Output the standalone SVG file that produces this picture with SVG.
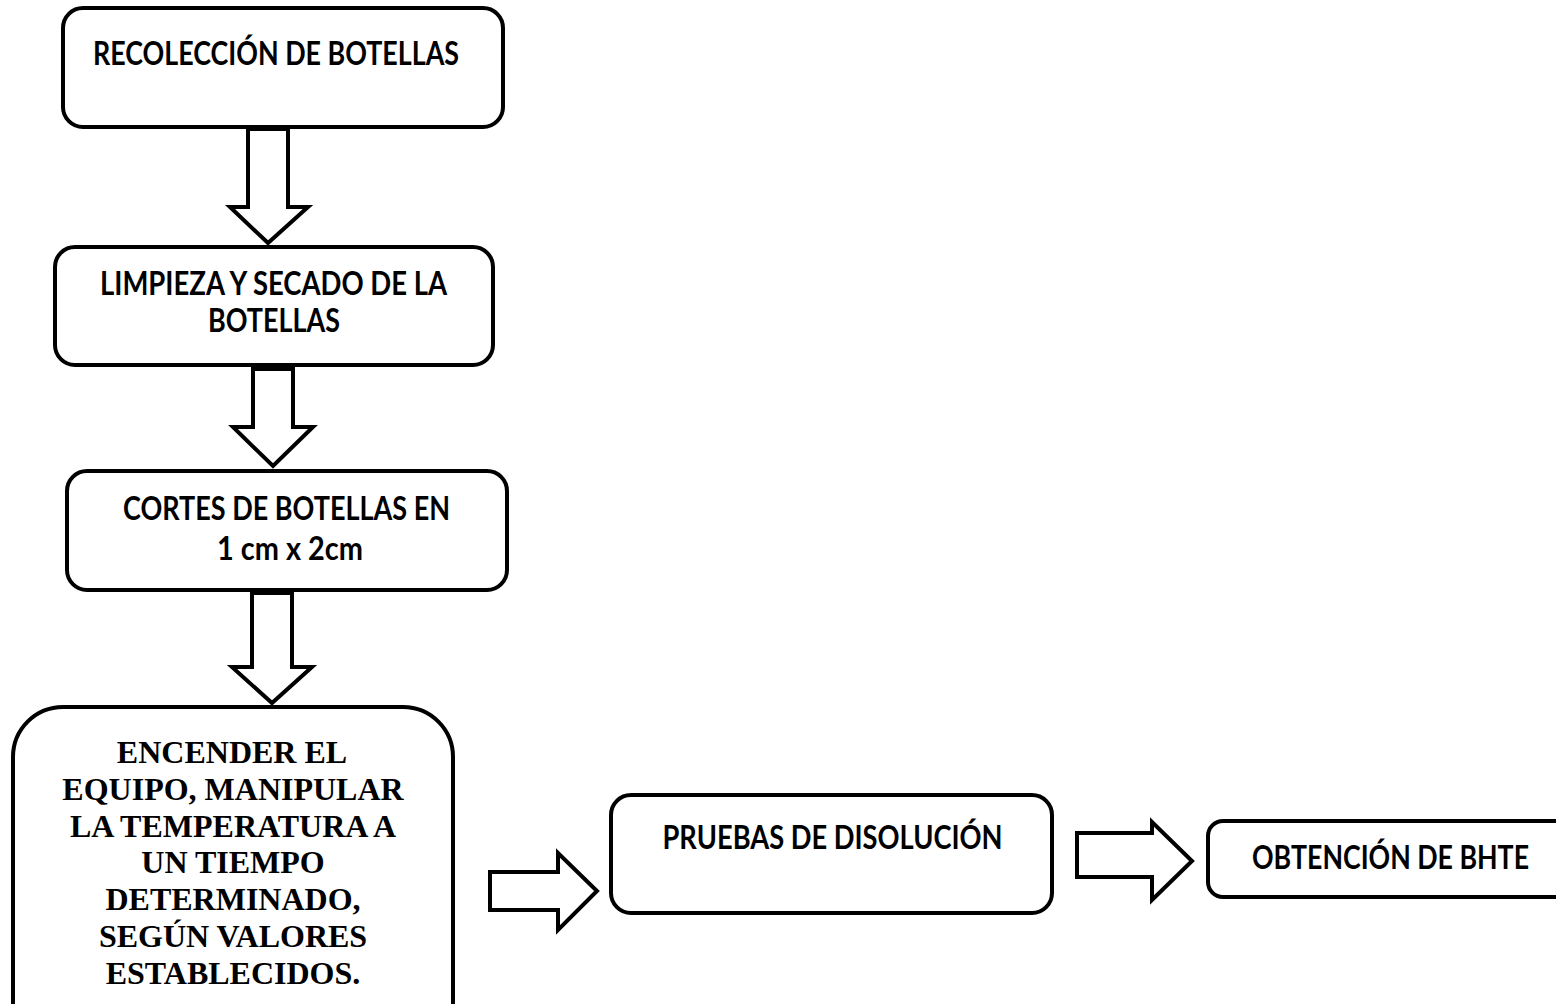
<svg xmlns="http://www.w3.org/2000/svg" width="1556" height="1004" viewBox="0 0 1556 1004">
<style>
.box{fill:#fff;stroke:#000;stroke-width:4}
.arr{fill:#fff;stroke:#000;stroke-width:4;stroke-linejoin:miter}
.t{font-family:"Lato","Liberation Sans",sans-serif;font-weight:bold;font-size:32px;fill:#000;text-anchor:middle}
.s{font-family:"Liberation Serif","Times New Roman",serif;font-weight:bold;font-size:32px;fill:#000;text-anchor:middle}
</style>
<rect width="1556" height="1004" fill="#fff"/>
<g id="connectors">
<polygon class="arr" points="248,129 288,129 288,207 308,207 268,243 230,207 248,207"/>
<polygon class="arr" points="253,369 293,369 293,427 313,427 273,466 233,427 253,427"/>
<polygon class="arr" points="252,593 292,593 292,667 312,667 272,703 232,667 252,667"/>
<polygon class="arr" points="490,872 558,872 558,853 597,891 558,930 558,910 490,910"/>
<polygon class="arr" points="1077,833 1152,833 1152,822 1192,861 1152,900 1152,877 1077,877"/>
</g>
<g id="n1">
<rect class="box" x="63" y="8" width="440" height="119" rx="20"/>
<text class="t" x="276" y="65" textLength="366" lengthAdjust="spacingAndGlyphs">RECOLECCIÓN DE BOTELLAS</text>
</g>
<g id="n2">
<rect class="box" x="55" y="247" width="438" height="118" rx="20"/>
<text class="t" x="273.5" y="295" textLength="347" lengthAdjust="spacingAndGlyphs">LIMPIEZA Y SECADO DE LA</text>
<text class="t" x="274" y="332" textLength="132" lengthAdjust="spacingAndGlyphs">BOTELLAS</text>
</g>
<g id="n3">
<rect class="box" x="67" y="471" width="440" height="119" rx="20"/>
<text class="t" x="286.5" y="520" textLength="327" lengthAdjust="spacingAndGlyphs">CORTES DE BOTELLAS EN</text>
<text class="t" x="290" y="560" textLength="146" lengthAdjust="spacingAndGlyphs">1 cm x 2cm</text>
</g>
<g id="n4">
<path class="box" d="M13,1006 V757 A50,50 0 0 1 63,707 H403 A50,50 0 0 1 453,757 V1006"/>
<text class="s" x="232" y="763">ENCENDER EL</text>
<text class="s" x="233" y="800">EQUIPO, MANIPULAR</text>
<text class="s" x="233" y="837">LA TEMPERATURA A</text>
<text class="s" x="233" y="873">UN TIEMPO</text>
<text class="s" x="233" y="910">DETERMINADO,</text>
<text class="s" x="233" y="947">SEGÚN VALORES</text>
<text class="s" x="233" y="984">ESTABLECIDOS.</text>
</g>
<g id="n5">
<rect class="box" x="611" y="795" width="441" height="118" rx="20"/>
<text class="t" x="832.5" y="849" textLength="340" lengthAdjust="spacingAndGlyphs">PRUEBAS DE DISOLUCIÓN</text>
</g>
<g id="n6">
<path class="box" d="M1556,821 H1223 A15,15 0 0 0 1208,836 V882 A15,15 0 0 0 1223,897 H1556"/>
<text class="t" x="1390.5" y="869" textLength="277" lengthAdjust="spacingAndGlyphs">OBTENCIÓN DE BHTE</text>
</g>
</svg>
